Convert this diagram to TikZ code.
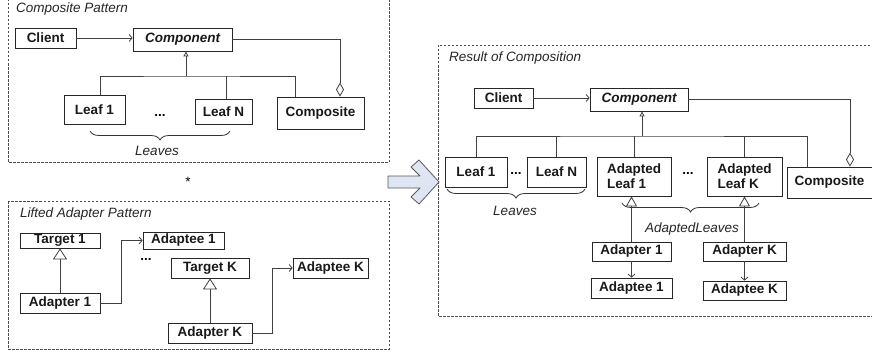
\documentclass[tikz,border=0pt]{standalone}
\usepackage{fontspec}
\setmainfont{Liberation Sans}
\usetikzlibrary{arrows.meta,decorations.pathreplacing}
\newcommand{\fs}{\fontsize{13.5}{15}\selectfont}
\tikzset{
  box/.style={draw=black!85, line width=0.8pt, fill=white, inner sep=0pt, font=\fs\bfseries, text=black!90},
  conn/.style={draw=black!75, line width=0.8pt},
  arr/.style={conn, -{Straight Barb[length=3pt,width=7pt]}},
  inhS/.style={conn, -{Triangle[open,length=5pt,width=5pt]}},
  inhL/.style={conn, -{Triangle[open,length=11pt,width=14pt]}},
  inhM/.style={conn, -{Triangle[open,length=10pt,width=11pt]}},
  agg/.style={conn, -{Diamond[open,length=14pt,width=8pt]}},
  frame/.style={draw=black!70, dash pattern=on 2.5pt off 1.5pt, line width=0.7pt},
  lbl/.style={font=\fs\itshape, text=black!85, inner sep=0pt},
  dots/.style={font=\fs\bfseries, inner sep=0pt},
  brc/.style={draw=black!80, line width=0.8pt, decorate, decoration={brace, amplitude=9pt}},
}
\begin{document}
\begin{tikzpicture}[x=1pt,y=-1pt]
\useasboundingbox (0,0) rectangle (872,353);
\fill[white] (0,0) rectangle (872,353);
% frames
\draw[frame] (8,-5) rectangle (389,162);
\draw[frame] (8,201) rectangle (389,349);
\draw[frame] (438,45) rectangle (885,316);
% frame titles
\node[lbl, anchor=west] (t1) at (16,9) {Composite Pattern};
\node[lbl, anchor=west] (t2) at (20,214) {Lifted Adapter Pattern};
\node[lbl, anchor=west] (t3) at (449,58) {Result of Composition};
\node[inner sep=0pt, font=\fs] (star) at (188,182) {*};

% ---------- Composite pattern ----------
\node[box, minimum width=61, minimum height=20] (client1) at (45.5,38) {Client};
\node[box, minimum width=99, minimum height=23, font=\fs\bfseries\itshape] (comp1) at (182.5,39.5) {Component};
\node[box, minimum width=61, minimum height=29] (leafA1) at (94.5,109.5) {Leaf 1};
\node[box, minimum width=57, minimum height=25] (leafN1) at (223.5,111.5) {Leaf N};
\node[box, minimum width=87, minimum height=32] (compo1) at (320.5,113) {Composite};
\node[dots] (d1) at (160,115) {...};
\coordinate (bus1) at (186,76);
\draw[arr] (client1.east) -- (client1.east -| comp1.west);
\draw[inhS] (bus1) -- (comp1.south -| bus1);
\draw[conn] ([xshift=5.5]leafA1.north) |- (bus1) -| ([xshift=-25.5]compo1.north);
\draw[conn] ([xshift=2.5]leafN1.north) -- ([xshift=2.5]leafN1.north |- bus1);
\draw[agg] (comp1.east) -| ([xshift=19.5]compo1.north);
\coordinate (b1a) at (90,131);
\coordinate (b1b) at (230,131);
\draw[brc] (b1b) -- (b1a);
\node[lbl] (leaves1) at (157,151) {Leaves};

% ---------- Lifted adapter pattern ----------
\node[box, minimum width=80, minimum height=15] (tgt1) at (60,240.5) {Target 1};
\node[box, minimum width=80, minimum height=20] (adp1) at (60,303) {Adapter 1};
\node[box, minimum width=81, minimum height=17] (ade1) at (183.5,240.5) {Adaptee 1};
\node[box, minimum width=78, minimum height=20] (tgtK) at (210,268) {Target K};
\node[box, minimum width=84, minimum height=20] (adpK) at (210,333) {Adapter K};
\node[box, minimum width=75, minimum height=20] (adeK) at (330.5,268) {Adaptee K};
\node[dots] (d2) at (146,259) {...};
\draw[inhL] (adp1.north) -- (tgt1.south);
\draw[inhL] (adpK.north) -- (tgtK.south);
\draw[arr] (adp1.east) -- ++(21,0) |- (ade1.west);
\draw[arr] (adpK.east) -- ++(20,0) |- (adeK.west);

% ---------- Big arrow ----------
\draw[draw=black!65, fill={rgb,255:red,222;green,230;blue,243}, line width=0.8pt, line join=round]
  (388,176) -- (420,176) -- (411,167) -- (419,160) -- (439,182) -- (419,204) -- (411,197) -- (420,188) -- (388,188) -- cycle;

% ---------- Result of composition ----------
\node[box, minimum width=59, minimum height=20] (client2) at (503.5,98) {Client};
\node[box, minimum width=98, minimum height=23, font=\fs\bfseries\itshape] (comp2) at (639,99.5) {Component};
\node[box, minimum width=62, minimum height=30] (leaf1r) at (476,172) {Leaf 1};
\node[box, minimum width=59, minimum height=30] (leafNr) at (556.5,172) {Leaf N};
\node[box, minimum width=74, minimum height=39, align=left] (al1) at (634,176.5) {Adapted\\Leaf 1};
\node[box, minimum width=75, minimum height=39, align=left] (alK) at (744.5,176.5) {Adapted\\Leaf K};
\node[box, minimum width=85, minimum height=31] (compo2) at (829.5,182.5) {Composite};
\node[box, minimum width=79, minimum height=19] (adp1r) at (631.5,251.5) {Adapter 1};
\node[box, minimum width=81, minimum height=20] (ade1r) at (631.5,288) {Adaptee 1};
\node[box, minimum width=83, minimum height=19] (adpKr) at (744.5,251.5) {Adapter K};
\node[box, minimum width=83, minimum height=19] (adeKr) at (744.5,290.5) {Adaptee K};
\node[dots] (d3) at (516,173) {...};
\node[dots] (d4) at (688,173) {...};
\coordinate (bus2) at (642,136);
\draw[arr] (client2.east) -- (client2.east -| comp2.west);
\draw[inhS] (bus2) -- (comp2.south -| bus2);
\draw[conn] (leaf1r.north) |- (bus2) -| ([xshift=-22.5]compo2.north);
\draw[conn] (leafNr.north) -- (leafNr.north |- bus2);
\draw[conn] (al1.north) -- (al1.north |- bus2);
\draw[conn] (alK.north) -- (alK.north |- bus2);
\draw[agg] (comp2.east) -| ([xshift=20.5]compo2.north);
\coordinate (b2a) at (447,189);
\coordinate (b2b) at (585,189);
\draw[brc] (b2b) -- (b2a);
\node[lbl] (leaves2) at (515,211) {Leaves};
\coordinate (b3a) at (622,203);
\coordinate (b3b) at (759,203);
\draw[brc] (b3b) -- (b3a);
\node[lbl] (aleaves) at (692,229) {AdaptedLeaves};
\draw[inhM] (adp1r.north) -- (adp1r.north |- al1.south);
\draw[inhM] (adpKr.north) -- (alK.south);
\draw[arr] (adp1r.south) -- (ade1r.north);
\draw[arr] (adpKr.south) -- (adeKr.north);
\end{tikzpicture}
\end{document}
